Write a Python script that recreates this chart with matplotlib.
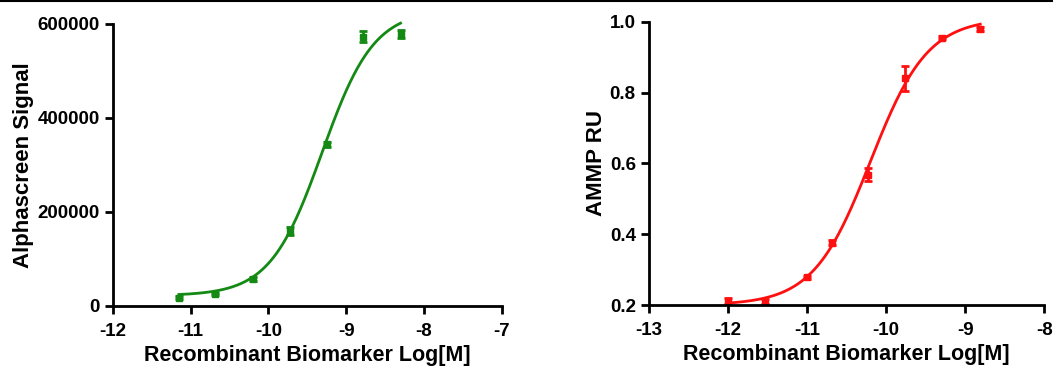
import matplotlib
matplotlib.use('Agg')
import matplotlib.pyplot as plt
import numpy as np
from matplotlib.lines import Line2D

plt.rcParams['font.family'] = ['Liberation Sans', 'DejaVu Sans']
plt.rcParams['font.weight'] = 'bold'

# Alphascreen (green) panel
alpha_logc = [-11.15, -10.68, -10.2, -9.72, -9.25, -8.78, -8.3]
alpha_signal = [18000, 25500, 58000, 160000, 344000, 573000, 579000]
alpha_err = [3000, 2500, 4000, 9000, 5000, 12000, 8000]
# 4PL fit: bottom, top, logEC50, hill
alpha_fit = [22000, 630000, -9.31, 1.3]

# AMMP (red) panel
ammp_logc = [-12.0, -11.53, -11.0, -10.69, -10.23, -9.76, -9.29, -8.81]
ammp_ru = [0.212, 0.209, 0.278, 0.376, 0.568, 0.84, 0.955, 0.979]
ammp_err = [0.009, 0.007, 0.005, 0.007, 0.019, 0.035, 0.004, 0.005]
ammp_fit = [0.2, 1.01, -10.2, 1.2]


def four_pl(x, p):
    bottom, top, ec50, hill = p
    return bottom + (top - bottom) / (1 + 10 ** ((ec50 - x) * hill))


fig = plt.figure(figsize=(10.53, 3.67), dpi=100)
W, H = 1053, 367
GREEN = '#148a14'
RED = '#ff1010'


def style(ax):
    for s in ['top', 'right']:
        ax.spines[s].set_visible(False)
    for s in ['left', 'bottom']:
        ax.spines[s].set_linewidth(2)
    ax.tick_params(width=2, length=6, labelsize=13.5, direction='out')
    ax.tick_params(axis='x', pad=6)
    for lab in ax.get_xticklabels() + ax.get_yticklabels():
        lab.set_fontweight('bold')


# left
ax1 = fig.add_axes([112.7 / W, 1 - 306 / H, (501.7 - 112.7) / W, (306 - 24) / H])
xs = np.linspace(min(alpha_logc), max(alpha_logc), 300)
ax1.plot(xs, four_pl(xs, alpha_fit), color=GREEN, lw=2, clip_on=False)
ax1.errorbar(alpha_logc, alpha_signal, yerr=alpha_err, fmt='s', ms=4,
             color=GREEN, capsize=3, elinewidth=2, capthick=2, clip_on=False)
ax1.set_xlim(-12, -7)
ax1.set_ylim(0, 600000)
ax1.set_xticks([-12, -11, -10, -9, -8, -7])
ax1.set_yticks([0, 200000, 400000, 600000])
ax1.set_xticklabels(['-12', '-11', '-10', '-9', '-8', '-7'])
ax1.set_yticklabels(['0', '200000', '400000', '600000'])
ax1.set_xlabel('Recombinant Biomarker Log[M]', fontsize=15.5, fontweight='bold', labelpad=4)
ax1.set_ylabel('Alphascreen Signal', fontsize=16, fontweight='bold', labelpad=2)
style(ax1)

# right
ax2 = fig.add_axes([649 / W, 1 - 305 / H, (1044.3 - 649) / W, (305 - 21.7) / H])
xs = np.linspace(min(ammp_logc), max(ammp_logc), 300)
ax2.plot(xs, four_pl(xs, ammp_fit), color=RED, lw=2, clip_on=False)
ax2.errorbar(ammp_logc, ammp_ru, yerr=ammp_err, fmt='s', ms=4,
             color=RED, capsize=3, elinewidth=2, capthick=2, clip_on=False)
ax2.set_xlim(-13, -8)
ax2.set_ylim(0.2, 1.0)
ax2.set_xticks([-13, -12, -11, -10, -9, -8])
ax2.set_yticks([0.2, 0.4, 0.6, 0.8, 1.0])
ax2.set_xticklabels(['-13', '-12', '-11', '-10', '-9', '-8'])
ax2.set_yticklabels(['0.2', '0.4', '0.6', '0.8', '1.0'])
ax2.set_xlabel('Recombinant Biomarker Log[M]', fontsize=15.5, fontweight='bold', labelpad=4)
ax2.set_ylabel('AMMP RU', fontsize=16, fontweight='bold', labelpad=2)
style(ax2)

# thin frame line along the top edge
fig.add_artist(Line2D([0, 1], [0.997, 0.997], color='black', lw=1.5))

fig.savefig('out.png', dpi=100)
